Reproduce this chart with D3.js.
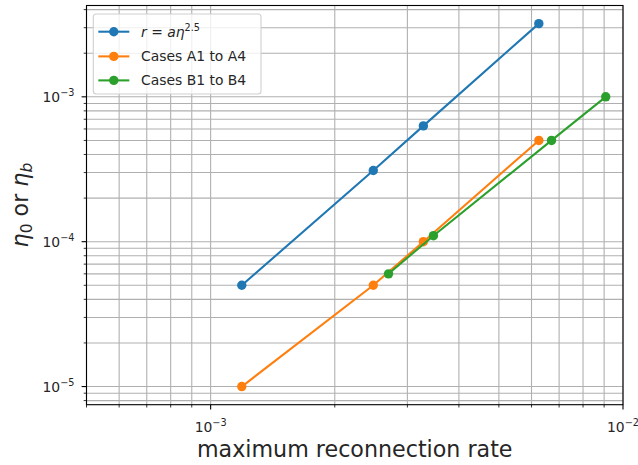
<!DOCTYPE html>
<html>
<head>
<meta charset="utf-8">
<script src="https://cdn.jsdelivr.net/npm/d3@7"></script>
<style>
  html, body { margin: 0; padding: 0; background: #fff; }
  svg { display: block; font-family: "DejaVu Sans", sans-serif; }
</style>
</head>
<body>
<svg id="chart" width="638" height="465"></svg>
<script>
// Maximum reconnection rate vs. resistivity, log-log
const seriesNames = ["r = aη^2.5", "Cases A1 to A4", "Cases B1 to B4"];
const seriesColors = ["#1f77b4", "#ff7f0e", "#2ca02c"];

const rateA = [1.19e-3, 2.48e-3, 3.28e-3, 6.25e-3];
const etaFit = [5e-5, 3.1e-4, 6.3e-4, 3.2e-3];
const etaA = [1e-5, 5e-5, 1e-4, 5e-4];
const rateB = [2.70e-3, 3.47e-3, 6.71e-3, 9.08e-3];
const etaB = [6e-5, 1.1e-4, 5e-4, 1e-3];

const xMajorTicks = [1e-3, 1e-2];
const yMajorTicks = [1e-5, 1e-4, 1e-3];

const series = [
  { x: rateA, y: etaFit },
  { x: rateA, y: etaA },
  { x: rateB, y: etaB }
];

const svg = d3.select("#chart");
const plot = { left: 86.5, right: 623, top: 5.5, bottom: 404.7 };

// y limits: data extent padded by 5% in log space
const allY = [].concat(etaFit, etaA, etaB);
const lo = Math.log10(d3.min(allY)), hi = Math.log10(d3.max(allY));
const pad = (hi - lo) * 0.05;

const x = d3.scaleLog().domain([5e-4, 1e-2]).range([plot.left, plot.right]);
const y = d3.scaleLog().domain([Math.pow(10, lo - pad), Math.pow(10, hi + pad)]).range([plot.bottom, plot.top]);

function logTicks(scale) {
  const [a, b] = scale.domain();
  const out = [];
  for (let e = Math.floor(Math.log10(a)); e <= Math.ceil(Math.log10(b)); e++) {
    for (let m = 1; m <= 9; m++) {
      const v = m * Math.pow(10, e);
      if (v >= a * 0.9999 && v <= b * 1.0001) out.push({ v, major: m === 1 });
    }
  }
  return out;
}
const xt = logTicks(x), yt = logTicks(y);

// grid (major and minor)
const grid = svg.append("g").attr("stroke", "#b0b0b0").attr("stroke-width", 1.1);
xt.forEach(t => grid.append("line")
  .attr("x1", x(t.v)).attr("x2", x(t.v)).attr("y1", plot.top).attr("y2", plot.bottom));
yt.forEach(t => grid.append("line")
  .attr("y1", y(t.v)).attr("y2", y(t.v)).attr("x1", plot.left).attr("x2", plot.right));

// series lines and markers
const line = d3.line().x(d => x(d[0])).y(d => y(d[1]));
series.forEach((s, i) => {
  const pts = s.x.map((v, j) => [v, s.y[j]]);
  const g = svg.append("g");
  g.append("path").datum(pts).attr("d", line)
    .attr("fill", "none").attr("stroke", seriesColors[i]).attr("stroke-width", 2.08);
  g.selectAll("circle").data(pts).join("circle")
    .attr("cx", d => x(d[0])).attr("cy", d => y(d[1])).attr("r", 4.7)
    .attr("fill", seriesColors[i]);
});

// frame
svg.append("rect").attr("x", plot.left).attr("y", plot.top)
  .attr("width", plot.right - plot.left).attr("height", plot.bottom - plot.top)
  .attr("fill", "none").attr("stroke", "#000").attr("stroke-width", 1.1);

// ticks
const ticks = svg.append("g").attr("stroke", "#000").attr("stroke-width", 1.1);
xt.forEach(t => ticks.append("line").attr("x1", x(t.v)).attr("x2", x(t.v))
  .attr("y1", plot.bottom).attr("y2", plot.bottom + (t.major ? 4.9 : 2.8))
  .attr("stroke-width", t.major ? 1.1 : 0.8));
yt.forEach(t => ticks.append("line").attr("y1", y(t.v)).attr("y2", y(t.v))
  .attr("x1", plot.left).attr("x2", plot.left - (t.major ? 4.9 : 2.8))
  .attr("stroke-width", t.major ? 1.1 : 0.8));

function powerLabel(sel, v) {
  const e = Math.round(Math.log10(v));
  sel.append("tspan").text("10");
  sel.append("tspan").attr("dy", -6).attr("font-size", 9.7).text("\u2212" + Math.abs(e));
}
xMajorTicks.forEach(v => {
  const t = svg.append("text").attr("x", x(v)).attr("y", 432)
    .attr("text-anchor", "middle").attr("font-size", 13.9).attr("fill", "#262626");
  powerLabel(t, v);
});
yMajorTicks.forEach(v => {
  const t = svg.append("text").attr("x", 74.5).attr("y", y(v) + 5.5)
    .attr("text-anchor", "end").attr("font-size", 13.9).attr("fill", "#262626");
  powerLabel(t, v);
});

// axis labels
svg.append("text").attr("x", (plot.left + plot.right) / 2).attr("y", 457)
  .attr("text-anchor", "middle").attr("font-size", 22.2).attr("fill", "#262626")
  .text("maximum reconnection rate");

const yl = svg.append("text")
  .attr("transform", `translate(28,${(plot.top + plot.bottom) / 2}) rotate(-90)`)
  .attr("text-anchor", "middle").attr("font-size", 22.2).attr("fill", "#262626");
yl.append("tspan").attr("font-style", "italic").text("η");
yl.append("tspan").attr("font-size", 15.5).attr("dy", 4).text("0");
yl.append("tspan").attr("dy", -4).text(" or ");
yl.append("tspan").attr("font-style", "italic").text("η");
yl.append("tspan").attr("font-size", 15.5).attr("font-style", "italic").attr("dy", 4).text("b");

// legend
const lg = svg.append("g");
lg.append("rect").attr("x", 93.3).attr("y", 14).attr("width", 167.7).attr("height", 80)
  .attr("rx", 3).attr("fill", "#fff").attr("fill-opacity", 0.8)
  .attr("stroke", "#d0d0d0").attr("stroke-width", 1.1);
const rowY = [31.7, 56.4, 80.4];
seriesNames.forEach((name, i) => {
  const cy = rowY[i];
  lg.append("line").attr("x1", 98.3).attr("x2", 129.3).attr("y1", cy).attr("y2", cy)
    .attr("stroke", seriesColors[i]).attr("stroke-width", 2.08);
  lg.append("circle").attr("cx", 113.8).attr("cy", cy).attr("r", 4.7).attr("fill", seriesColors[i]);
  const t = lg.append("text").attr("x", 141).attr("y", cy + 5)
    .attr("font-size", 13.9).attr("fill", "#262626");
  if (i === 0) {
    t.append("tspan").attr("font-style", "italic").text("r");
    t.append("tspan").text(" = ");
    t.append("tspan").attr("font-style", "italic").text("aη");
    t.append("tspan").attr("dy", -6).attr("font-size", 9.7).text("2.5");
  } else {
    t.text(name);
  }
});
</script>
</body>
</html>
